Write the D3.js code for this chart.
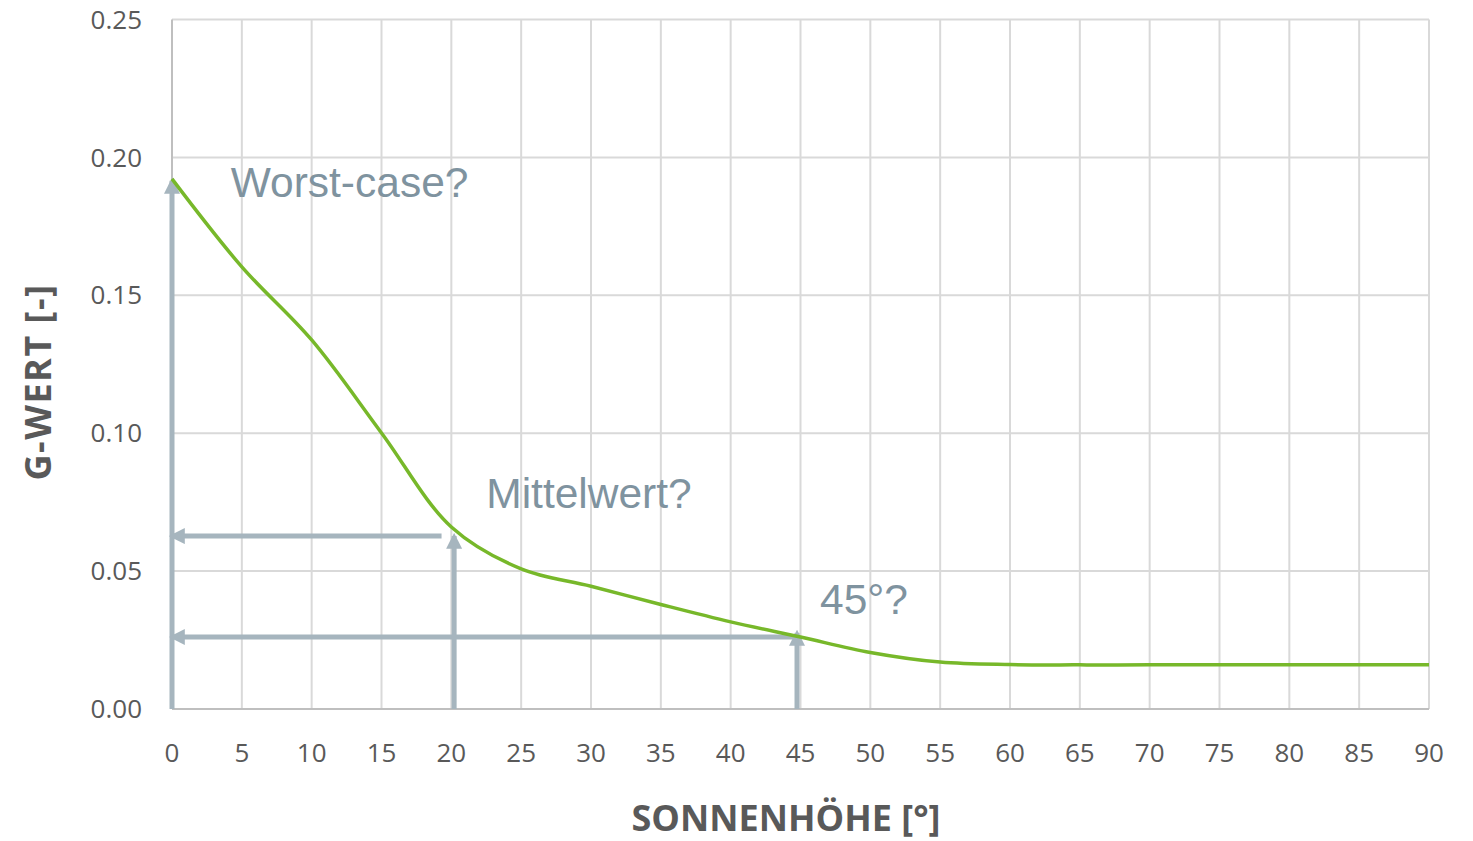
<!DOCTYPE html>
<html lang="de">
<head>
  <meta charset="UTF-8">
  <title>g-Wert über Sonnenhöhe</title>
  <style>
    body { margin: 0; padding: 0; background: #fff; }
    .tick-label { font-family: "Open Sans", sans-serif; font-size: 26px; fill: #595959; }
    .axis-title { font-family: "Open Sans", sans-serif; font-size: 36px; font-weight: bold; fill: #595959; }
    .note { font-family: "Liberation Sans", Arial, sans-serif; font-size: 42.5px; fill: #7f939f; }
  </style>
</head>
<body>
  <svg id="chart" width="1473" height="841"></svg>
  <script src="https://d3js.org/d3.v7.min.js"></script>
  <script>
    // Sonnenhöhe [°] und g-Wert [-]
    const angles = [0, 5, 10, 15, 20, 25, 30, 35, 40, 45, 50, 55, 60, 65, 70, 75, 80, 85, 90];
    const gValues = [0.1922, 0.1603, 0.1338, 0.1001, 0.0660, 0.0508, 0.0445, 0.0379, 0.0316, 0.0261,
                     0.0205, 0.0170, 0.0161, 0.0160, 0.0160, 0.0160, 0.0160, 0.0160, 0.0160];
    const xTicks = d3.range(0, 91, 5);
    const yTicks = [0, 0.05, 0.10, 0.15, 0.20, 0.25];

    // Pfeile (Datenkoordinaten): von -> nach
    const arrows = [
      { x1: 0, y1: 0, x2: 0, y2: 0.1915 },
      { x1: 19.3, y1: 0.0627, x2: 0, y2: 0.0627 },
      { x1: 20.2, y1: 0, x2: 20.2, y2: 0.0627 },
      { x1: 44.75, y1: 0.0261, x2: 0, y2: 0.0261 },
      { x1: 44.75, y1: 0, x2: 44.75, y2: 0.0276 }
    ];
    const notes = [
      { text: 'Worst-case?', x: 4.2, y: 0.1856 },
      { text: 'Mittelwert?', x: 22.5, y: 0.0729 },
      { text: '45°?', x: 46.4, y: 0.0344 }
    ];

    const svg = d3.select('#chart');
    const x = d3.scaleLinear().domain([0, 90]).range([172, 1429]);
    const y = d3.scaleLinear().domain([0, 0.25]).range([709, 19.5]);

    // Gitter
    svg.append('g').selectAll('line.v')
      .data(xTicks.filter(d => d > 0))
      .enter().append('line')
        .attr('x1', d => x(d)).attr('x2', d => x(d))
        .attr('y1', y(0)).attr('y2', y(0.25))
        .attr('stroke', '#d9d9d9').attr('stroke-width', 2);
    svg.append('g').selectAll('line.h')
      .data(yTicks.filter(d => d > 0))
      .enter().append('line')
        .attr('x1', x(0)).attr('x2', x(90))
        .attr('y1', d => y(d)).attr('y2', d => y(d))
        .attr('stroke', '#d9d9d9').attr('stroke-width', 2);

    // Achsenlinien
    svg.append('line')
      .attr('x1', x(0)).attr('x2', x(0)).attr('y1', y(0)).attr('y2', y(0.25))
      .attr('stroke', '#bfbfbf').attr('stroke-width', 2);
    svg.append('line')
      .attr('x1', x(0)).attr('x2', x(90)).attr('y1', y(0)).attr('y2', y(0))
      .attr('stroke', '#bfbfbf').attr('stroke-width', 2);

    // Beschriftungen
    svg.append('g').selectAll('text')
      .data(yTicks)
      .enter().append('text')
        .attr('class', 'tick-label')
        .attr('x', 142)
        .attr('y', d => y(d))
        .attr('dy', '0.35em')
        .attr('text-anchor', 'end')
        .text(d => d3.format('.2f')(d));
    svg.append('g').selectAll('text')
      .data(xTicks)
      .enter().append('text')
        .attr('class', 'tick-label')
        .attr('x', d => x(d))
        .attr('y', 762)
        .attr('text-anchor', 'middle')
        .text(d => d);

    svg.append('text')
      .attr('class', 'axis-title')
      .attr('x', 786).attr('y', 831)
      .attr('text-anchor', 'middle')
      .text('SONNENHÖHE [°]');
    svg.append('text')
      .attr('class', 'axis-title')
      .attr('transform', 'translate(51,382) rotate(-90)')
      .attr('text-anchor', 'middle')
      .style('letter-spacing', '1.5px')
      .text('G-WERT [-]');

    // Pfeile
    const defs = svg.append('defs');
    defs.append('marker')
      .attr('id', 'head')
      .attr('viewBox', '0 0 10 10')
      .attr('refX', 8).attr('refY', 5)
      .attr('markerWidth', 3.2).attr('markerHeight', 3.2)
      .attr('markerUnits', 'strokeWidth')
      .attr('orient', 'auto')
      .append('path')
        .attr('d', 'M0,0 L10,5 L0,10 Z')
        .attr('fill', '#a6b5be');

    svg.append('g').selectAll('line')
      .data(arrows)
      .enter().append('line')
        .attr('x1', d => x(d.x1)).attr('y1', d => y(d.y1))
        .attr('x2', d => x(d.x2)).attr('y2', d => y(d.y2))
        .attr('stroke', '#a6b5be')
        .attr('stroke-width', 5)
        .attr('marker-end', 'url(#head)');

    // Kurve
    const line = d3.line()
      .x((d, i) => x(angles[i]))
      .y(d => y(d))
      .curve(d3.curveCatmullRom.alpha(0.5));
    svg.append('path')
      .datum(gValues)
      .attr('d', line)
      .attr('fill', 'none')
      .attr('stroke', '#77b82a')
      .attr('stroke-width', 3.5);

    svg.append('g').selectAll('text')
      .data(notes)
      .enter().append('text')
        .attr('class', 'note')
        .attr('x', d => x(d.x))
        .attr('y', d => y(d.y))
        .text(d => d.text);
  </script>
</body>
</html>
